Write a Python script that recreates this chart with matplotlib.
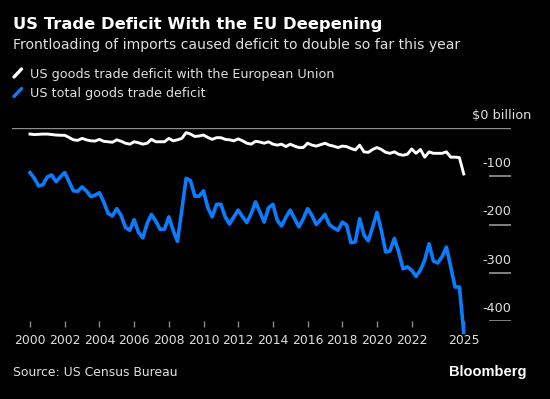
import numpy as np
import matplotlib
matplotlib.use("Agg")
import matplotlib.pyplot as plt
from matplotlib.lines import Line2D

# ---------------- data ----------------
quarters = np.arange(2000, 2025.01, 0.25)

eu_deficit = [
    -12, -13, -12.5, -12,
    -12, -13, -14, -14.5,
    -14.5, -19, -24, -25,
    -21, -24, -26, -26.5,
    -23, -27, -28, -29,
    -24, -27, -31, -33,
    -28, -30, -33, -31,
    -23, -28, -28, -28,
    -21, -26, -24, -21,
    -9, -12, -17, -16,
    -14, -19, -23, -19.5,
    -19.5, -23, -24, -26,
    -22, -26, -31, -33,
    -27, -28.5, -31, -28,
    -33, -35, -33, -38,
    -33, -37, -40, -40,
    -31, -35, -37, -34,
    -31, -35, -37, -40,
    -37, -38, -42, -45,
    -35, -49, -50, -44,
    -40, -44, -50, -52,
    -49, -54, -56, -54,
    -43, -52, -44, -60,
    -49, -52, -52, -52,
    -49, -60, -60, -61,
    -95,
]

total_deficit = [
    -92, -104, -120, -117,
    -101, -97, -111, -101,
    -92, -111, -130, -131,
    -122, -130, -142, -139,
    -134, -153, -177, -182,
    -167, -181, -206, -212,
    -190, -216, -228, -198,
    -179, -193, -210, -210,
    -184, -212, -235, -170,
    -104, -109, -141, -141,
    -130, -165, -184, -158,
    -158, -184, -199, -184,
    -170, -184, -196, -177,
    -153, -174, -195, -165,
    -158, -191, -203, -185,
    -170, -188, -205, -188,
    -167, -181, -200, -190,
    -179, -200, -207, -212,
    -195, -201, -238, -236,
    -188, -222, -234, -205,
    -175, -212, -257, -255,
    -229, -257, -292, -288,
    -295, -308, -295, -274,
    -240, -276, -280, -267,
    -247, -288, -330, -330,
    -424,
]

x_ticks = [2000, 2002, 2004, 2006, 2008, 2010, 2012, 2014, 2016, 2018, 2020, 2022, 2025]
x_tick_labels = [str(t) for t in x_ticks]
y_ticks = [-100, -200, -300, -400]
y_tick_labels = ["-100", "-200", "-300", "-400"]

title = "US Trade Deficit With the EU Deepening"
subtitle = "Frontloading of imports caused deficit to double so far this year"
legend_labels = ["US goods trade deficit with the European Union", "US total goods trade deficit"]
source = "Source: US Census Bureau"

# ---------------- style ----------------
W, H = 550, 399
BG = "#000000"
WHITE = "#ffffff"
BLUE = "#0a7cff"
GRID = "#8c8c8c"
TXT = "#e0e0e0"
plt.rcParams["font.family"] = ["DejaVu Sans"]

fig = plt.figure(figsize=(W / 100, H / 100), dpi=100, facecolor=BG)

def fx(px):
    return px / W

def fy(py):
    return 1 - py / H

ax_left, ax_right, ax_top, ax_bottom = 12, 511, 128.3, 320.7
ax = fig.add_axes([fx(ax_left), fy(ax_bottom), fx(ax_right - ax_left), (ax_bottom - ax_top) / H])
ax.set_facecolor(BG)
for s in ax.spines.values():
    s.set_visible(False)

x0 = 2000 - (30 - ax_left) / 17.35
x1 = 2000 + (ax_right - 30) / 17.35
ax.set_xlim(x0, x1)
ax.set_ylim(-400, 0)

ax.axhline(0, color=GRID, lw=1.0, zorder=1)
for v, lab in zip(y_ticks, y_tick_labels):
    ax.axhline(v, xmin=(490 - ax_left) / (ax_right - ax_left), xmax=1, color=GRID, lw=1.3, zorder=1)
    ax.annotate(lab, xy=(1, v), xycoords=("axes fraction", "data"),
                xytext=(0, 6.5), textcoords="offset points", ha="right", va="baseline",
                color=TXT, fontsize=9.2)
ax.annotate("$0 billion", xy=(1, 0), xycoords=("axes fraction", "data"),
            xytext=(15, 7), textcoords="offset points", ha="right", va="baseline",
            color=TXT, fontsize=9.3)

ax.plot(quarters, eu_deficit, color=WHITE, lw=2.1, zorder=3, solid_joinstyle="round", clip_on=False)
ax.plot(quarters, total_deficit, color=BLUE, lw=2.6, zorder=4, solid_joinstyle="round", clip_on=False)

ax.set_yticks([])
ax.set_xticks(x_ticks)
ax.set_xticklabels(x_tick_labels)
ax.tick_params(axis="x", direction="out", length=4.3, width=1, color=GRID,
               labelcolor=TXT, labelsize=8.9, pad=5.5)

# ---------------- texts ----------------
fig.text(fx(13), fy(29), title, color=WHITE, fontsize=11.8, fontweight="bold", va="baseline", ha="left")
fig.text(fx(13), fy(48.5), subtitle, color=TXT, fontsize=10.1, va="baseline", ha="left")

for i, (lab, col) in enumerate(zip(legend_labels, [WHITE, BLUE])):
    yb = 78 + i * 19.5
    fig.add_artist(Line2D([fx(14), fx(21.5)], [fy(yb - 1), fy(yb - 9)], color=col, lw=2.4,
                          solid_capstyle="round", transform=fig.transFigure))
    fig.text(fx(30), fy(yb), lab, color=TXT, fontsize=9.2, va="baseline", ha="left")

fig.text(fx(13), fy(376), source, color=TXT, fontsize=8.9, va="baseline", ha="left")
fig.text(fx(527), fy(376), "Bloomberg", color=WHITE, fontsize=10.5, fontweight="bold",
         family=["Liberation Sans", "DejaVu Sans"], va="baseline", ha="right")

fig.savefig("out.png", dpi=100, facecolor=BG)
